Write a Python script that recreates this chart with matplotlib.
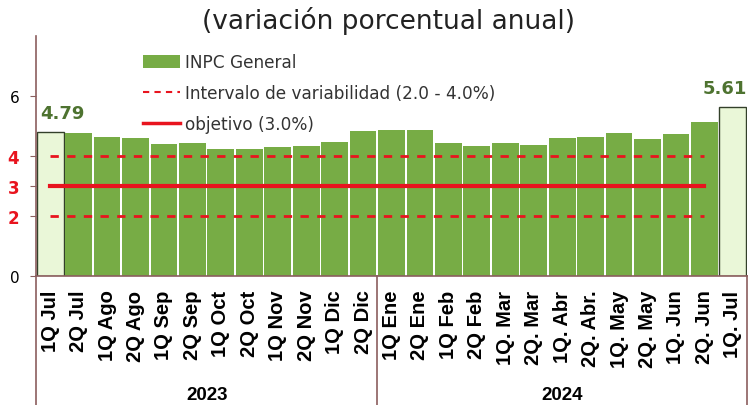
import numpy as np
import matplotlib.pyplot as plt
from matplotlib.patches import Patch
from matplotlib.lines import Line2D

labels = ["1Q Jul", "2Q Jul", "1Q Ago", "2Q Ago", "1Q Sep", "2Q Sep",
          "1Q Oct", "2Q Oct", "1Q Nov", "2Q Nov", "1Q Dic", "2Q Dic",
          "1Q Ene", "2Q Ene", "1Q Feb", "2Q Feb", "1Q. Mar", "2Q. Mar",
          "1Q. Abr", "2Q. Abr.", "1Q. May", "2Q. May", "1Q. Jun", "2Q. Jun",
          "1Q. Jul"]
inpc = [4.79, 4.76, 4.63, 4.59, 4.40, 4.44, 4.24, 4.21, 4.28, 4.31,
        4.46, 4.81, 4.86, 4.86, 4.44, 4.31, 4.44, 4.36, 4.59, 4.62,
        4.76, 4.56, 4.74, 5.13, 5.61]
years = ["2023", "2024"]
n_2023 = 12
objetivo = 3.0
intervalo = (2.0, 4.0)

green = "#77AC45"
light = "#EAF7D8"
dark_green = "#4E7330"
red = "#E8141E"
brown = "#8B5E5E"

fig = plt.figure(figsize=(7.52, 4.06), dpi=100)
ax = fig.add_axes([36/752, 1 - 276.7/406, 711/752, 240/406])

x = np.arange(len(inpc))
colors = [green] * len(inpc)
colors[0] = light
colors[-1] = light
bars = ax.bar(x, inpc, width=0.94, color=colors, zorder=2)
for i in (0, len(inpc) - 1):
    bars[i].set_edgecolor("#33402A")
    bars[i].set_linewidth(1.0)

# objective and band lines, end at 2Q Jun
xl = [0, len(inpc) - 2]
ax.plot(xl, [intervalo[1]] * 2, color=red, lw=2, ls=(0, (3, 3)), zorder=3)
ax.plot(xl, [intervalo[0]] * 2, color=red, lw=2, ls=(0, (3, 3)), zorder=3)
ax.plot(xl, [objetivo] * 2, color=red, lw=3, zorder=3)

ax.text(-0.36, inpc[0] + 0.33, f"{inpc[0]:.2f}", ha="left", va="bottom",
        fontsize=13, fontweight="bold", color=dark_green)
ax.text(len(inpc) - 0.5, inpc[-1] + 0.33, f"{inpc[-1]:.2f}", ha="right", va="bottom",
        fontsize=13, fontweight="bold", color=dark_green)

ax.set_xlim(-0.5, len(inpc) - 0.5)
ax.set_ylim(0, 8)
ax.set_yticks([0, 2, 3, 4, 6])
ax.set_yticklabels(["0", "2", "3", "4", "6"], fontsize=11)
for t in ax.get_yticklabels():
    if t.get_text() in ("2", "3", "4"):
        t.set_color(red)
        t.set_fontweight("bold")
        t.set_fontsize(12)
ax.tick_params(axis="y", length=4, color=brown, pad=8)

ax.set_xticks(x)
ax.set_xticklabels(labels, rotation=90, fontsize=14.5, fontweight="bold",
                   family="Liberation Sans", va="top")
ax.tick_params(axis="x", length=0, pad=10)

for s in ("top", "right"):
    ax.spines[s].set_visible(False)
ax.spines["left"].set_color(brown)
ax.spines["bottom"].set_color(brown)
ax.spines["left"].set_linewidth(1.2)
ax.spines["bottom"].set_linewidth(1.2)

# year separators and labels
trans = ax.get_xaxis_transform()
for xs in (-0.5, n_2023 - 0.5, len(inpc) - 0.5):
    ax.plot([xs, xs], [0, -0.6], color=brown, lw=1.2, transform=trans, clip_on=False)
ax.text((n_2023 - 1) / 2, -0.495, years[0], transform=trans, ha="center", va="center",
        fontsize=13.5, fontweight="bold", family="Liberation Sans")
ax.text((n_2023 + len(inpc) - 1) / 2, -0.495, years[1], transform=trans, ha="center",
        va="center", fontsize=13.5, fontweight="bold", family="Liberation Sans")

fig.text(388/752, 1 - 21/406, "(variación porcentual anual)", ha="center", va="center",
         fontsize=19, color="#222222")

handles = [Patch(facecolor=green, edgecolor="none"),
           Line2D([], [], color=red, lw=1.5, ls=(0, (3, 2.5))),
           Line2D([], [], color=red, lw=2.5)]
leg = fig.legend(handles, ["INPC General", "Intervalo de variabilidad (2.0 - 4.0%)",
                           "objetivo (3.0%)"],
                 loc="upper left", bbox_to_anchor=(143/752, 1 - 54/406), frameon=False,
                 fontsize=12.2, handlelength=2.2, handleheight=0.8, handletextpad=0.25,
                 labelspacing=0.78, borderpad=0, borderaxespad=0)
for t in leg.get_texts():
    t.set_color("#333333")

fig.savefig("out.png", dpi=100)
